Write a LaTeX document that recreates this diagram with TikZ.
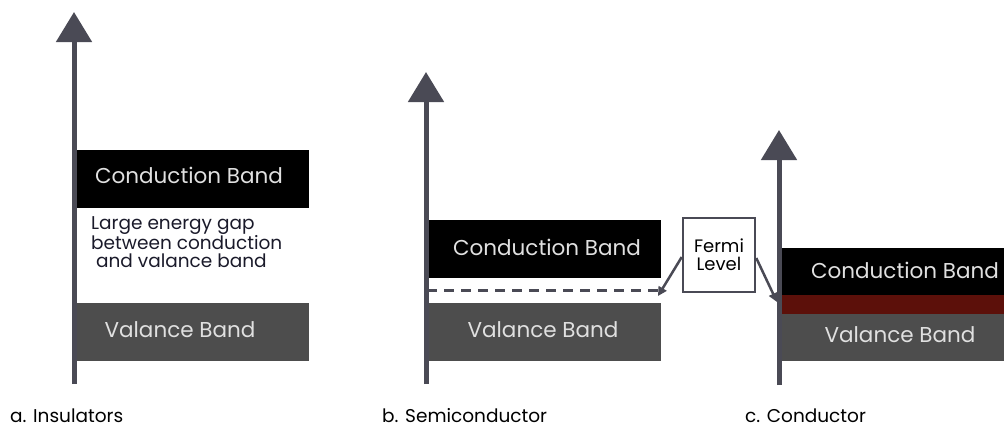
\documentclass[tikz,border=0pt]{standalone}
\usepackage{fontspec}
\setmainfont{Poppins}
\usetikzlibrary{arrows.meta}
\definecolor{axisc}{HTML}{4A4A55}
\definecolor{vband}{HTML}{4D4D4D}
\definecolor{rband}{HTML}{5C100A}
\definecolor{bandtxt}{HTML}{E0E0E0}
\definecolor{gaptxt}{HTML}{1A1A2A}
\begin{document}
\begin{tikzpicture}[x=1pt,y=-1pt,
  axis/.style={draw=axisc,line width=5pt,-{Triangle[width=35pt,length=30pt]}},
  band/.style={anchor=north west,inner sep=0pt},
  cband/.style={band,fill=black},
  vbandst/.style={band,fill=vband},
  btxt/.style={text=bandtxt,inner sep=0pt,font=\fontsize{21.5}{24}\selectfont},
  lbl/.style={anchor=base west,inner sep=0pt,font=\fontsize{18.5}{20}\selectfont,text=black},
  fermi/.style={draw=axisc,line width=2.5pt,fill=white,inner sep=0pt,font=\fontsize{18}{18}\selectfont,align=center,text=black},
  farrow/.style={draw=axisc,line width=2.5pt,-{Triangle[width=9pt,length=9pt]}}]
\useasboundingbox (0,0) rectangle (1004,429);
% panel a
\node[cband,minimum width=233pt,minimum height=58pt] (ca) at (76,150) {};
\node[btxt] (cat) at (189,175) {Conduction Band};
\node[vbandst,minimum width=233pt,minimum height=58pt] (va) at (76,303) {};
\node[btxt] (vat) at (180,330) {Valance Band};
\node[anchor=north west,inner sep=0pt,align=left,text=gaptxt,font=\fontsize{18.5}{18}\selectfont] (gap) at (91,216) {Large energy gap\\between conduction\\\ and valance band};
\coordinate (a0) at (74,384);
\coordinate (a1) at (74,12);
\draw[axis] (a0) -- (a1);
\node[lbl] (la) at (10,422) {a. Insulators};
% panel b
\node[cband,minimum width=234pt,minimum height=58pt] (cb) at (427,220) {};
\node[btxt] (cbt) at (547,247) {Conduction Band};
\node[vbandst,minimum width=234pt,minimum height=58pt] (vb) at (427,303) {};
\node[btxt] (vbt) at (543,330) {Valance Band};
\coordinate (d0) at (427,290);
\coordinate (d1) at (660,290);
\draw[axisc,line width=3pt,dash pattern=on 10pt off 7pt] (d0) -- (d1);
\coordinate (b0) at (426,384);
\coordinate (b1) at (426,72);
\draw[axis] (b0) -- (b1);
\node[lbl] (lb) at (382,422) {b. Semiconductor};
% panel c
\node[cband,minimum width=224pt,minimum height=47pt] (cc) at (780,248) {};
\node[btxt] (cct) at (905,270) {Conduction Band};
\node[band,fill=rband,minimum width=224pt,minimum height=19pt] (rc) at (780,295) {};
\node[vbandst,minimum width=224pt,minimum height=47pt] (vc) at (780,314) {};
\node[btxt] (vct) at (900,335) {Valance Band};
\coordinate (c0) at (779,385);
\coordinate (c1) at (779,130);
\draw[axis] (c0) -- (c1);
\node[lbl] (lc) at (745,422) {c. Conductor};
% Fermi
\node[fermi,minimum width=72pt,minimum height=74pt] (fe) at (719,255) {Fermi\\Level};
\coordinate (f1) at (658,296);
\coordinate (f2) at (777,302);
\draw[farrow] (fe.west |- 0,257) -- (f1);
\draw[farrow] (fe.east |- 0,258) -- (f2);
\end{tikzpicture}
\end{document}
